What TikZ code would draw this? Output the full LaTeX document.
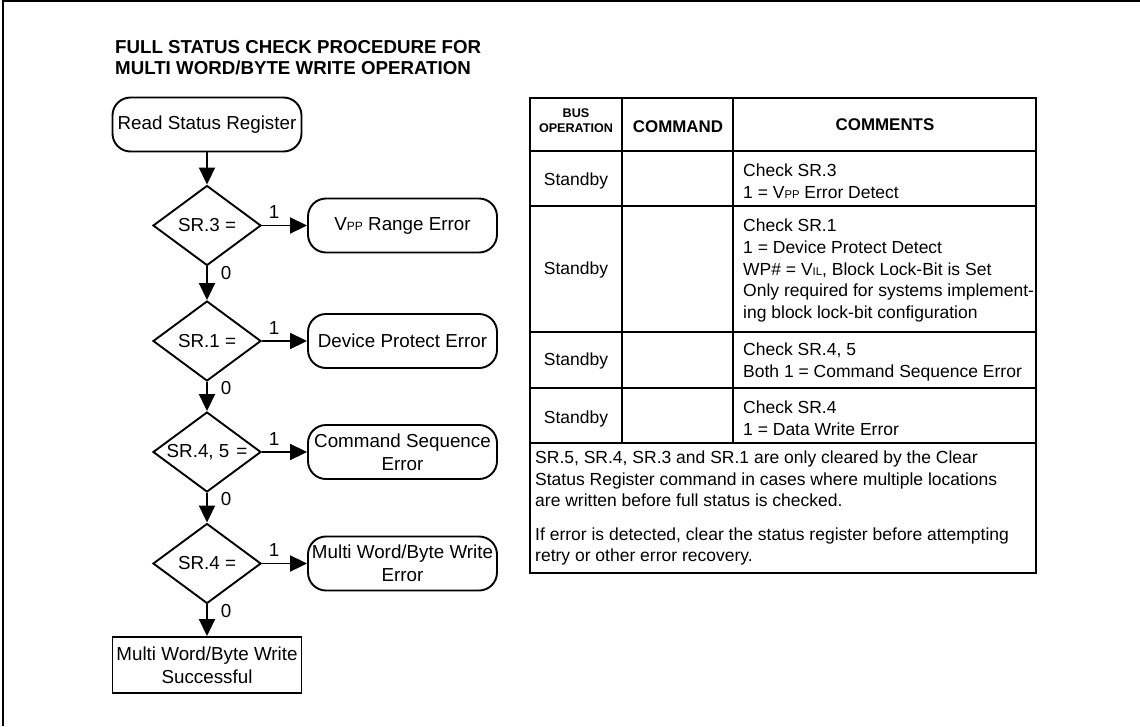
\documentclass[tikz,border=0pt]{standalone}
\usepackage{fontspec}
\setmainfont{Liberation Sans}
\usetikzlibrary{shapes.geometric,arrows.meta}
\newcommand\smallsub[1]{{\fontsize{12}{12}\selectfont #1}}
\newcommand\smallsubt[1]{{\fontsize{11.3}{11.3}\selectfont #1}}
\begin{document}
\begin{tikzpicture}[x=1pt,y=-1pt,
  flow/.style={font=\fontsize{18.8}{22.6}\selectfont},
  rbox/.style={draw, line width=1.9pt, rounded corners=18pt, minimum width=189pt, minimum height=54pt, align=center, inner sep=0pt, flow},
  sbox/.style={draw, line width=1.9pt, minimum width=189pt, minimum height=56pt, align=center, inner sep=0pt, flow},
  dia/.style={draw, diamond, line width=1.9pt, minimum width=108pt, minimum height=80pt, inner sep=0pt},
  arr/.style={line width=1.9pt, -{Triangle[length=17pt,width=16pt]}},
  lab/.style={inner sep=0pt, flow},
  tline/.style={line width=1.9pt},
  tab/.style={font=\fontsize{17.5}{21.7}\selectfont, inner sep=0pt, align=left},
  hdr/.style={font=\fontsize{16.9}{16.9}\selectfont\bfseries, inner sep=0pt, align=center}
]
\useasboundingbox (0,0) rectangle (1140,726);
% outer frame
\draw[line width=2pt] (3,726) -- (3,1) -- (1140,1);
% title
\node[anchor=west, align=left, inner sep=0pt, font=\fontsize{18.7}{21}\selectfont\bfseries] (title) at (115,57.5)
  {FULL STATUS CHECK PROCEDURE FOR\\MULTI WORD/BYTE WRITE OPERATION};
% flowchart
\node[rbox] (rsr) at (207,124.5) {Read Status Register};
\node[dia, label={[lab]center:SR.3 =}] (d1) at (207,225.5) {};
\node[dia, label={[lab]center:SR.1 =}] (d2) at (207,341) {};
\node[dia, label={[lab]center:SR.4, 5\hspace{7pt}=}] (d3) at (207,452) {};
\node[dia, label={[lab]center:SR.4 =}] (d4) at (207,563.5) {};
\node[rbox] (e1) at (402.5,225.5) {V\smallsub{PP} Range Error};
\node[rbox] (e2) at (402.5,341) {Device Protect Error};
\node[rbox] (e3) at (402.5,452) {Command Sequence\\Error};
\node[rbox] (e4) at (402.5,563.5) {Multi Word/Byte Write\\Error};
\node[sbox] (ok) at (207,665) {Multi Word/Byte Write\\Successful};
\draw[arr] (rsr) -- (d1);
\draw[arr] (d1) -- node[lab, pos=0.2, anchor=west, xshift=13pt] {0} (d2);
\draw[arr] (d2) -- node[lab, pos=0.2, anchor=west, xshift=13pt] {0} (d3);
\draw[arr] (d3) -- node[lab, pos=0.2, anchor=west, xshift=13pt] {0} (d4);
\draw[arr] (d4) -- node[lab, pos=0.2, anchor=west, xshift=13pt] {0} (ok);
\draw[arr] (d1.east) -- node[lab, pos=0.27, above=6pt] {1} (e1);
\draw[arr] (d2.east) -- node[lab, pos=0.27, above=6pt] {1} (e2);
\draw[arr] (d3.east) -- node[lab, pos=0.27, above=6pt] {1} (e3);
\draw[arr] (d4.east) -- node[lab, pos=0.27, above=6pt] {1} (e4);
% table
\draw[tline] (530,98) rectangle (1036,573);
\draw[tline] (622,98) -- (622,443) (733,98) -- (733,443);
\draw[tline] (530,151) -- (1036,151) (530,206) -- (1036,206) (530,332) -- (1036,332)
  (530,388) -- (1036,388) (530,443) -- (1036,443);
\node[hdr, font=\fontsize{12.6}{15}\selectfont\bfseries] (hbus) at (576,121) {BUS\\OPERATION};
\node[hdr] (hcmd) at (678,127) {COMMAND};
\node[hdr] (hcom) at (885,125) {COMMENTS};
\node[tab] (s1) at (576,181) {Standby};
\node[tab] (s2) at (576,270) {Standby};
\node[tab] (s3) at (576,361) {Standby};
\node[tab] (s4) at (576,419) {Standby};
\node[tab, anchor=west] (c1) at (743,181) {Check SR.3\\1 = V\smallsubt{PP} Error Detect};
\node[tab, anchor=west] (c2) at (743,270.5) {Check SR.1\\1 = Device Protect Detect\\WP\# = V\smallsubt{IL}, Block Lock-Bit is Set\\Only required for systems implement-\\ing block lock-bit configuration};
\node[tab, anchor=west] (c3) at (743,362) {Check SR.4, 5\\Both 1 = Command Sequence Error};
\node[tab, anchor=west] (c4) at (743,418) {Check SR.4\\1 = Data Write Error};
\node[tab, anchor=west] (f1) at (535,479) {SR.5, SR.4, SR.3 and SR.1 are only cleared by the Clear\\Status Register command in cases where multiple locations\\are written before full status is checked.};
\node[tab, anchor=west] (f2) at (535,546.5) {If error is detected, clear the status register before attempting\\retry or other error recovery.};
\end{tikzpicture}
\end{document}
